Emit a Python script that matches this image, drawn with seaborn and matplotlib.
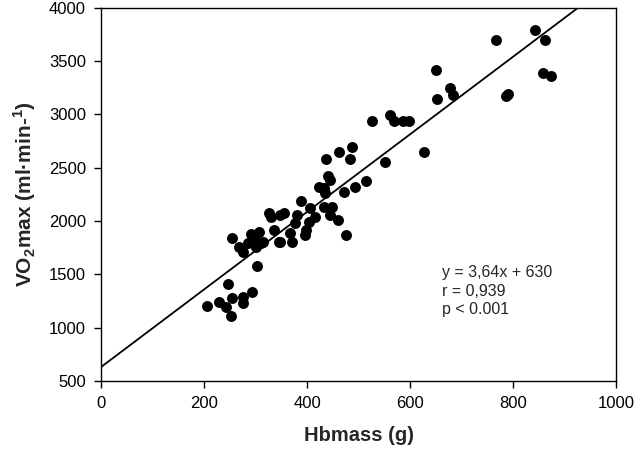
import numpy as np
import pandas as pd
import matplotlib
matplotlib.use('Agg')
import matplotlib.pyplot as plt
import seaborn as sns

# values
hbmass = [206, 228, 243, 252, 255, 247, 276, 276, 293, 302,
          254, 267, 276, 285, 296, 306, 315, 325, 335, 348,
          354, 348, 367, 370, 380, 377, 388, 398, 403, 406,
          416, 290, 310, 330, 345, 300,
          437, 461, 483, 551, 441, 445, 422, 432, 435, 471,
          493, 515, 432, 448, 445, 459, 396, 476,
          526, 560, 568, 586, 597, 627, 650, 652, 487, 678,
          683, 785, 790, 767, 843, 862, 858, 874]
vo2max = [1204, 1235, 1188, 1110, 1281, 1407, 1285, 1229, 1332, 1579,
          1844, 1760, 1713, 1790, 1853, 1900, 1807, 2072, 1916, 2057,
          2072, 1807, 1885, 1807, 2057, 1978, 2191, 1916, 1994, 2119,
          2041, 1880, 1790, 2040, 1800, 1760,
          2580, 2651, 2580, 2551, 2420, 2380, 2322, 2307, 2260, 2276,
          2322, 2370, 2135, 2135, 2057, 2010, 1870, 1870,
          2942, 2995, 2933, 2942, 2942, 2645, 3420, 3145, 2698, 3245,
          3180, 3170, 3190, 3699, 3793, 3699, 3389, 3360]

slope = 3.64
intercept = 630
stats_lines = ['y = 3,64x + 630', 'r = 0,939', 'p < 0.001']

sns.set_style('ticks')
plt.rcParams['font.family'] = ['Liberation Sans', 'DejaVu Sans']
plt.rcParams['mathtext.fontset'] = 'custom'
plt.rcParams['mathtext.rm'] = 'Liberation Sans'
plt.rcParams['mathtext.bf'] = 'Liberation Sans:bold'

df = pd.DataFrame({'hbmass': hbmass, 'vo2max': vo2max})

fig = plt.figure(figsize=(6.4, 4.55), dpi=100)
ax = fig.add_axes([0.158, 0.163, 0.805, 0.82])

sns.scatterplot(data=df, x='hbmass', y='vo2max', ax=ax, color='black',
                s=62, linewidth=0, zorder=3)

# regression line from the printed equation
xs = np.array([0, 1000])
ax.plot(xs, slope * xs + intercept, color='black', lw=1.3, zorder=2)

ax.set_xlim(0, 1000)
ax.set_ylim(500, 4000)
ax.set_xticks(range(0, 1001, 200))
ax.set_yticks(range(500, 4001, 500))
ax.tick_params(direction='out', length=5, width=1, labelsize=12,
               colors='black', top=False, right=False, pad=6)
for sp in ax.spines.values():
    sp.set_visible(True)
    sp.set_linewidth(1)
    sp.set_color('black')

ax.set_xlabel('Hbmass (g)', fontsize=14.5, fontweight='bold', labelpad=11)
ax.set_ylabel(r'VO$_\mathbf{2}$max (ml·min-$^{\mathbf{1}}$)', fontsize=15,
              fontweight='bold', labelpad=8)

for i, t in enumerate(stats_lines):
    ax.text(662, 1513 - i * 172, t, fontsize=11.5, va='center', ha='left')

fig.savefig('out.png', dpi=100)
